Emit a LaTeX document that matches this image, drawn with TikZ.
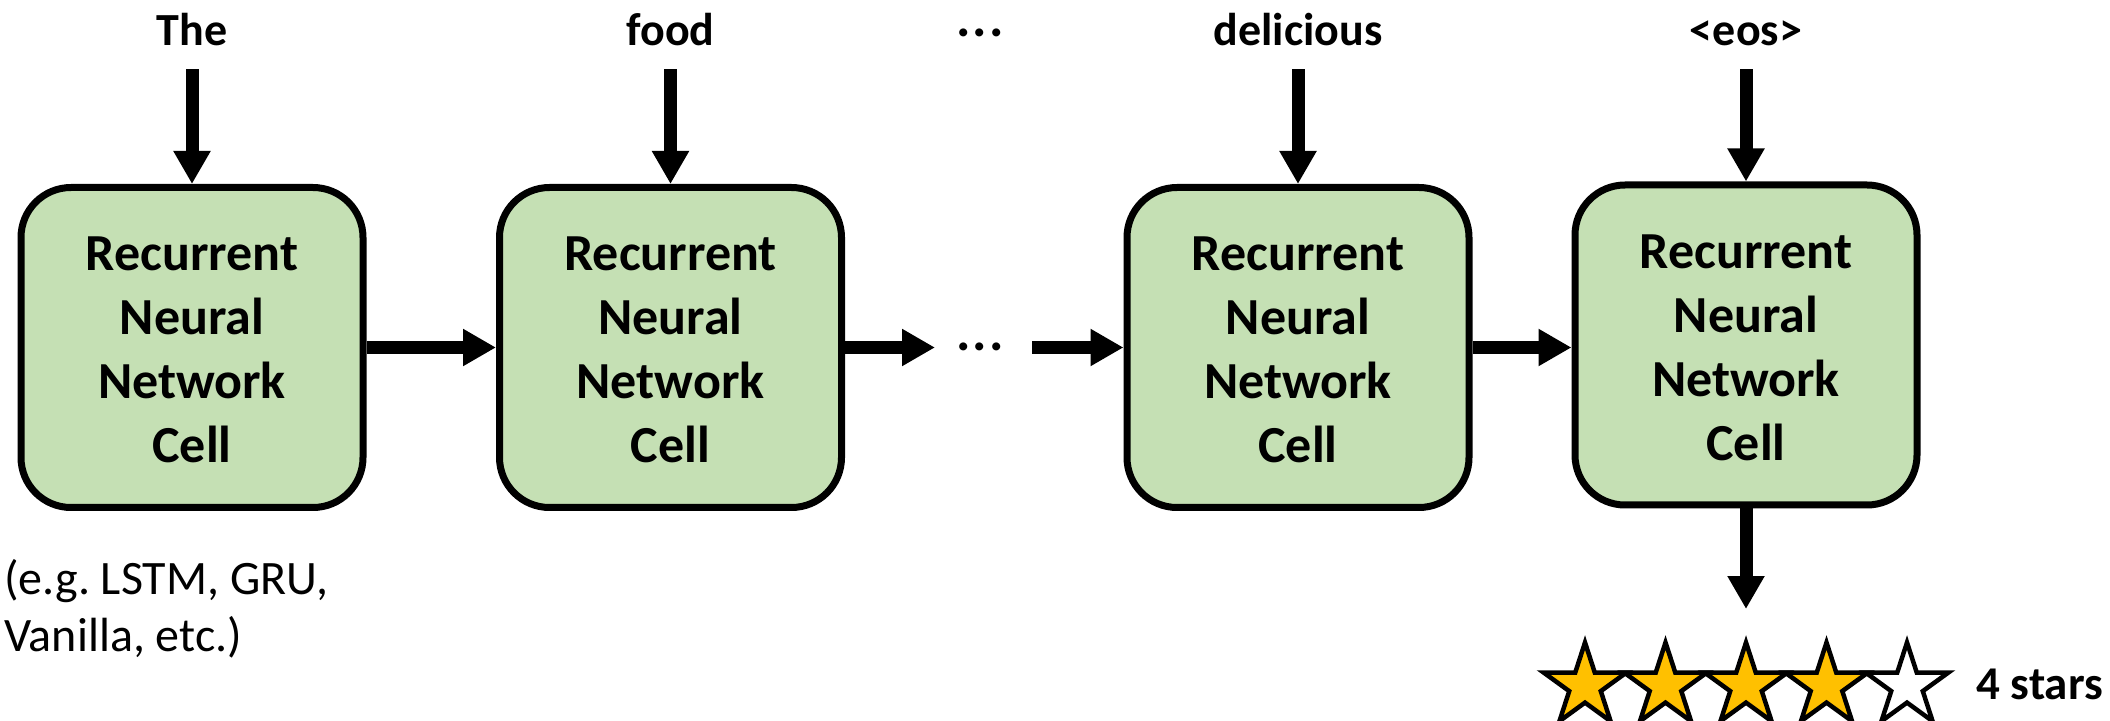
\documentclass[tikz,border=0pt]{standalone}
\usepackage{fontspec}
\setmainfont{Carlito}
\usetikzlibrary{arrows.meta,calc}
\definecolor{cellgreen}{HTML}{C5E0B4}
\definecolor{stargold}{HTML}{FFC000}
\frenchspacing

\begin{document}
\begin{tikzpicture}[x=0.5pt,y=-0.5pt,
  cell/.style={draw, line width=3.5pt, fill=cellgreen, rounded corners=25pt,
    minimum width=171pt, minimum height=160pt, align=center, inner sep=0pt,
    font=\bfseries\fontsize{26}{32}\selectfont},
  word/.style={font=\bfseries\fontsize{23}{28}\selectfont, inner sep=0pt, outer sep=0pt},
  dots/.style={font=\bfseries\fontsize{27}{32}\selectfont, inner sep=0pt, outer sep=0pt},
  flow/.style={line width=6.5pt, -{Triangle[width=17.5pt,length=16.5pt]}},
  starshape/.style={draw, line width=2.25pt, miter limit=10}
]
\useasboundingbox (0,0) rectangle (2110,721);

% text of a cell, with a strut that lowers it a little
\newcommand*\celltext{\rule{0pt}{19.5pt}Recurrent\\Neural\\Network\\Cell}
\newcommand*\wideellipsis{.\kern1.1pt.\kern1.1pt.}

% recurrent cells
\node[cell] (c1) at (192,347.5)   {\celltext};
\node[cell] (c2) at (670.5,347.5) {\celltext};
\node[cell] (c3) at (1298,347.5)  {\celltext};
\node[cell] (c4) at (1746,345)    {\celltext};

% input words
\node[word, anchor=base] (w1) at (192,46)   {The};
\node[word, anchor=base] (w2) at (670.5,46) {food};
\node[word, anchor=base] (w3) at (1298,46)  {delicious};
\node[word, anchor=base] (w4) at (1746,46)  {<eos>};
\node[dots, anchor=base] (tdots) at (980,37)  {\wideellipsis};
\node[dots, anchor=base] (mdots) at (980,351) {\wideellipsis};

% word inputs into the cells
\foreach \i in {1,...,4}
  \draw[flow, shorten <=11.5pt] (w\i.south) -- (c\i.north);

% hidden state passed along the chain
\coordinate (gapL) at (935,347.5);
\coordinate (gapR) at (1032,347.5);
\draw[flow] (c1.east) -- (c2.west);
\draw[flow] (c2.east) -- (gapL);
\draw[flow] (gapR) -- (c3.west);
\draw[flow] (c3.east) -- (c3.east -| c4.west);

% output of the last cell
\coordinate (out) at (1746,609);
\draw[flow] (c4.south) -- (out);

% rating stars
\foreach \i/\col in {0/stargold,1/stargold,2/stargold,3/stargold,4/white}{
  \coordinate (s\i) at (1585+80.5*\i,686);
  \draw[starshape, fill=\col] ($(s\i)+(270:43.5)$)
    \foreach \k in {1,...,9}{ -- ($(s\i)+({270+36*\k}:{43.5-26.9*mod(\k,2)})$) } -- cycle;
}
\node[anchor=base west, inner sep=0pt, font=\bfseries\fontsize{23.5}{28}\selectfont] (rating) at (1976,699) {4 stars};

% note on the cell type
\node[anchor=west, align=left, inner sep=0pt, font=\fontsize{24}{28.5}\selectfont] (note) at (4,609)
  {(e.g. LSTM, GRU,\\Vanilla, etc.)};
\end{tikzpicture}
\end{document}
